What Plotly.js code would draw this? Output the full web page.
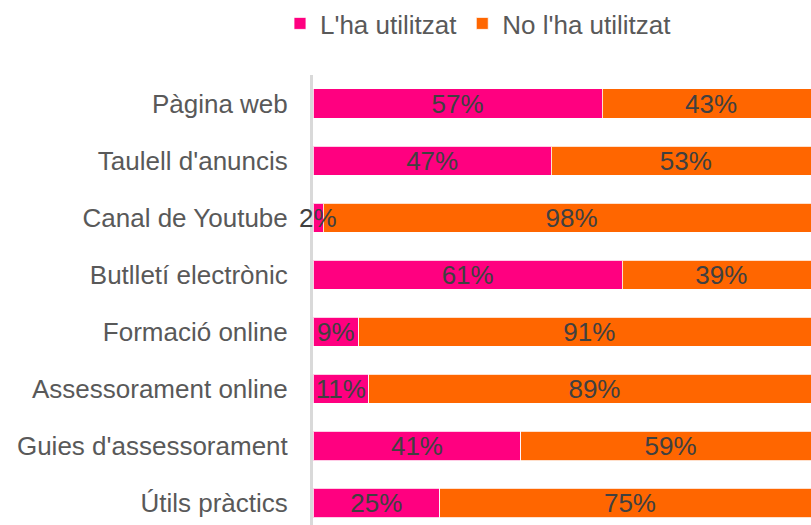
<!DOCTYPE html>
<html>
<head>
<meta charset="utf-8">
<script src="https://cdn.plot.ly/plotly-3.0.1.min.js"></script>
<style>html,body{margin:0;padding:0;background:#fff;}#chart{width:811px;height:525px;}</style>
</head>
<body>
<div id="chart"></div>
<script>
const categories = ["Pàgina web", "Taulell d'anuncis", "Canal de Youtube", "Butlletí electrònic", "Formació online", "Assessorament online", "Guies d'assessorament", "Útils pràctics"];
const usedValues = [57, 47, 2, 61, 9, 11, 41, 25];
const notUsedValues = [43, 53, 98, 39, 91, 89, 59, 75];
const seriesNames = ["L'ha utilitzat", "No l'ha utilitzat"];

const FONT = "Liberation Sans, Arial, sans-serif";
const LABEL_FONT = {family: FONT, size: 26, color: '#404040'};
const SMALL = 5;
function mk(name, vals, color) {
  return {
    type: 'bar', orientation: 'h', name: name,
    y: categories, x: vals,
    text: vals.map(v => v + '%'),
    textposition: vals.map(v => v < SMALL ? 'none' : 'inside'),
    insidetextanchor: 'middle',
    constraintext: 'none', textangle: 0,
    textfont: LABEL_FONT,
    marker: {color: color, line: {color: 'rgba(255,255,255,0.8)', width: 1}},
    hoverinfo: 'none'
  };
}
const data = [mk(seriesNames[0], usedValues, '#FF0080'), mk(seriesNames[1], notUsedValues, '#FF6600')];

// labels for segments too narrow to hold their text (centered on the segment, overflowing)
const annotations = [];
usedValues.forEach((v, i) => {
  if (v < SMALL) annotations.push({x: v / 2, y: categories[i], xref: 'x', yref: 'y', text: v + '%',
    showarrow: false, font: LABEL_FONT, xanchor: 'center', yanchor: 'middle'});
});

const layout = {
  width: 811, height: 525,
  margin: {l: 313, r: 0, t: 75, b: 0},
  barmode: 'stack', bargap: 0.49,
  paper_bgcolor: '#fff', plot_bgcolor: '#fff',
  font: {family: FONT, size: 26, color: '#595959'},
  showlegend: true,
  legend: {orientation: 'h', xref: 'container', yref: 'container', x: 0.59, xanchor: 'center', y: 1.0, yanchor: 'top',
           font: {family: FONT, size: 26, color: '#595959'}, traceorder: 'normal'},
  annotations: annotations,
  xaxis: {range: [0, 98.2], showgrid: false, zeroline: false, showticklabels: false, showline: false, fixedrange: true},
  yaxis: {type: 'category', range: [7.385, -0.5], showgrid: false, zeroline: false,
          showline: true, linecolor: '#d9d9d9', linewidth: 3, ticks: '', ticklabelstandoff: 17,
          tickfont: {family: FONT, size: 26, color: '#595959'}, fixedrange: true}
};
Plotly.newPlot('chart', data, layout, {displayModeBar: false, staticPlot: true});
</script>
</body>
</html>
